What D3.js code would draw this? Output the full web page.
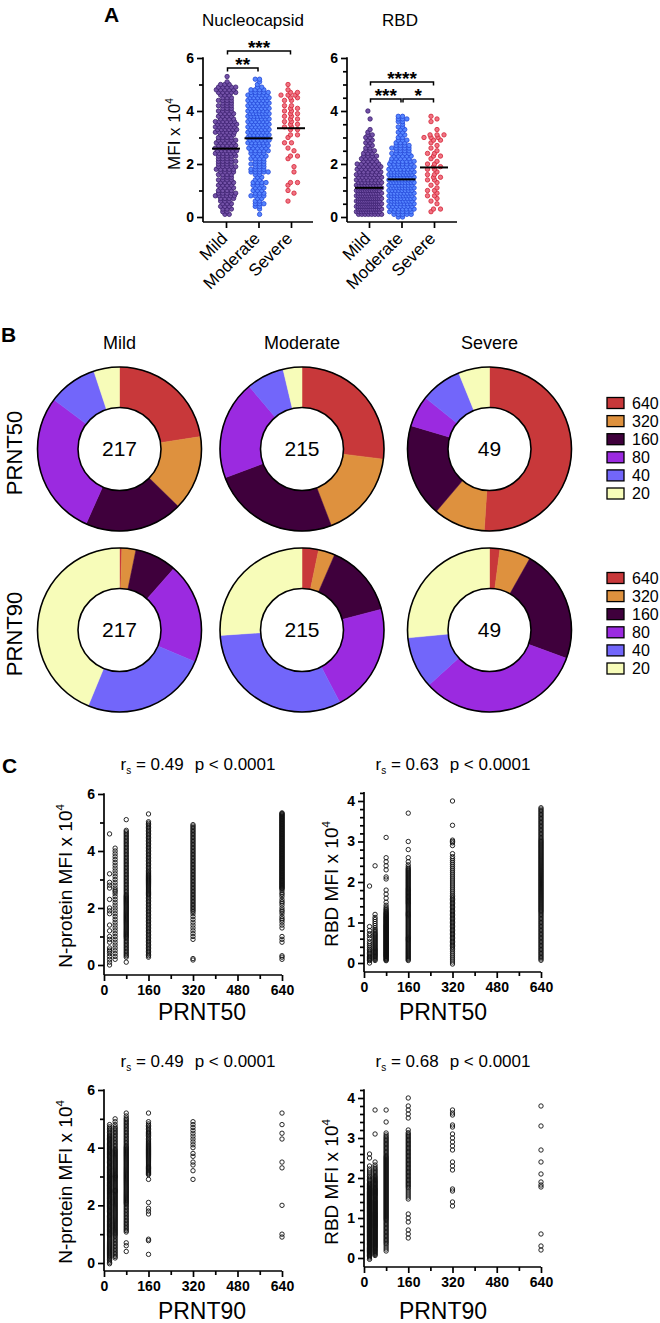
<!DOCTYPE html>
<html><head><meta charset="utf-8">
<script src="https://cdn.jsdelivr.net/npm/d3@7"></script>
<style>body{margin:0;background:#fff}svg{display:block}</style>
</head><body><svg id="c" width="660" height="1323"></svg>
<script>
// ---------------- DATA ----------------
const groups = ["Mild", "Moderate", "Severe"];
// Panel A: counts of subjects per 0.1 MFI bin (index i -> i/10 x 10^4)
const nucMild = [0,2,2,3,3, 3,3,4,6,5, 4,4,4,4,4, 3,4,4,5,5, 4,5,4,5,6, 6,6,5,5,5, 4,4,6,6,6, 6,6,4,4,4, 4,3,4,3,4, 3,3,5,5,5, 3,1,0,1];
const nucMod  = [0,1,0,1,2, 3,2,2,4,3, 3,3,3,4,2, 2,2,5,4,3, 4,3,4,4,4, 5,5,5,6,6, 7,6,6,6,6, 6,6,6,7,7, 6,6,6,6,6, 6,6,5,4,2, 1,1,2,0];
const nucSev  = [0,0,0,0,0, 0,1,0,0,1, 1,0,1,2,0, 0,0,1,0,1, 0,0,1,2,0, 1,1,0,2,0, 1,2,0,2,2, 2,2,2,2,2, 2,2,2,0,2, 2,3,2,1,0, 1];
const rbdMild = [0,8,10,12,12, 12,12,12,11,10, 11,11,9,8,7, 7,7,6,6,6, 6,4,4,4,3, 3,2,2,2,2, 2,2,1,1,0, 0,0,1,0,0, 1];
const rbdMod  = [2,5,6,7,7, 8,9,8,9,8, 8,9,8,9,8, 8,9,8,7,7, 6,7,5,5,5, 4,5,4,3,3, 2,2,2,2,2, 1,2,3,2];
const rbdSev  = [0,0,1,2,0, 1,1,1,2,1, 2,1,1,1,2, 2,2,1,2,2, 2,1,1,2,2, 1,1,1,1,2, 3,3,0,1,0, 0,1,1,1];
const nucMedians = [2.58, 2.97, 3.35];
const rbdMedians = [1.10, 1.42, 1.87];
const nucSig = [["Mild", "Moderate", "**"], ["Mild", "Severe", "***"]];
const rbdSig = [["Mild", "Moderate", "***"], ["Moderate", "Severe", "*"], ["Mild", "Severe", "****"]];

// Panel B: number of subjects per titer
const titers = ["640", "320", "160", "80", "40", "20"];
const titerColors = ["#c8383a", "#de913e", "#3f003c", "#9b2ae0", "#7266fa", "#f7fcb9"];
const p50Mild = [49, 32, 42, 62, 21, 11];
const p50Mod  = [58, 37, 54, 42, 16, 8];
const p50Sev  = [25, 5, 9, 3, 4, 3];
const p90Mild = [1, 6, 18, 43, 54, 95];
const p90Mod  = [7, 7, 31, 46, 68, 56];
const p90Sev  = [1, 3, 11, 16, 5, 13];
const groupN = [217, 215, 49];

// Panel C: per titer column, counts per 0.1 MFI bin
const titerX = [20, 40, 80, 160, 320, 640];
const nP50_20  = [1,1,1,1,1, 2,1,0,1,1, 1,0,1,0,1, 0,0,0,1,1, 1,0,0,1,0, 0,0,1,1,1, 0,0,1,0,0, 0,0,0,0,0, 0,0,0,0,0, 0,1];
const nP50_40  = [0,0,1,1,1, 1,1,1,1,1, 1,1,1,1,1, 1,1,1,1,1, 1,1,1,1,1, 1,2,1,1,1, 1,1,1,1,1, 1,1,1,1,1, 1,1];
const nP50_80  = [0,1,0,2,2, 2,2,2,2,2, 3,3,3,3,3, 3,3,3,3,3, 3,3,3,3,3, 2,2,2,2,2, 2,2,2,2,2, 2,2,2,2,2, 2,2,2,2,2, 2,2,2,0,0, 0,1];
const nP50_160 = [0,0,0,2,2, 2,2,2,2,2, 2,2,2,2,2, 2,2,2,2,2, 2,2,2,2,2, 3,3,3,3,3, 3,3,3,2,2, 2,2,2,2,2, 2,2,2,2,2, 2,2,2,2,2, 2,0,0,1];
const nP50_320 = [0,0,2,0,0, 0,0,0,0,1, 1,1,1,1,1, 1,1,1,1,2, 2,2,2,2,2, 2,2,2,2,2, 2,2,2,2,2, 2,2,2,2,2, 2,2,2,2,2, 2,2,2,2,2];
const nP50_640 = [0,0,1,2,0, 0,0,0,1,1, 1,0,0,1,1, 1,2,1,1,2, 1,1,2,1,1, 2,1,4,4,4, 4,4,4,4,4, 4,4,4,4,4, 4,4,4,4,4, 4,4,4,4,4, 4,4,4,4];
const rP50_20  = [1,5,3,3,2, 2,1,2,1,1, 0,0,0,0,0, 0,0,0,0,1];
const rP50_40  = [0,4,5,5,4, 4,4,4,3,2, 2,2,1,0,0, 0,0,0,0,0, 0,0,0,0,1];
const rP50_80  = [0,6,8,8,8, 8,8,8,8,8, 7,7,6,4,2, 1,1,1,1,0, 0,2,0,1,1, 1,1,0,0,0, 0,1];
const rP50_160 = [0,4,4,4,4, 4,5,4,4,4, 4,4,5,4,4, 5,5,5,5,4, 4,4,4,4,2, 1,1,0,1,0, 1,0,0,0,0, 0,0,1];
const rP50_320 = [2,2,2,2,3, 3,3,3,3,3, 3,3,3,3,3, 3,3,2,2,2, 2,2,2,2,2, 2,2,1,0,1, 3,0,0,0,1, 0,0,0,0,0, 1];
const rP50_640 = [0,3,3,3,3, 3,3,3,3,3, 3,3,3,4,4, 4,4,4,4,4, 4,4,4,4,4, 4,4,4,4,4, 4,3,3,3,3, 3,3,3,3];
const nP90_20  = [2,2,3,3,3, 3,3,3,3,3, 4,3,4,3,4, 3,4,3,4,3, 4,3,4,3,4, 5,4,5,4,5, 4,4,3,4,3, 4,3,4,3,4, 3,4,3,4,3, 2,2,2,1];
const nP90_40  = [0,0,2,2,2, 2,2,2,2,2, 3,3,3,3,3, 3,3,3,3,3, 3,3,3,3,3, 4,3,3,3,3, 4,3,3,3,3, 3,3,3,3,3, 2,2,2,2,2, 2,2,2,1,1, 1];
const nP90_80  = [0,0,0,0,1, 0,1,1,0,0, 0,2,2,2,2, 2,2,2,2,2, 2,3,3,3,3, 3,3,3,3,3, 3,3,3,3,3, 3,3,3,3,3, 3,2,2,2,2, 2,2,2,2,2, 2,1,1];
const nP90_160 = [0,0,0,1,0, 0,0,0,2,0, 0,0,0,0,0, 0,0,1,1,1, 0,1,0,0,0, 0,0,0,0,1, 0,3,3,4,3, 3,3,3,3,3, 3,3,3,2,2, 3,2,2,2,1, 0,0,1];
const nP90_320 = [0,0,0,0,0, 0,0,0,0,0, 0,0,0,0,0, 0,0,0,0,0, 0,0,0,0,0, 0,0,0,0,1, 0,0,1,0,1, 1,0,1,1,0, 1,1,1,1,1, 1,1,1,1,1];
const nP90_640 = [0,0,0,0,0, 0,0,0,0,1, 1,0,0,0,0, 0,0,0,0,0, 1,0,0,0,0, 0,0,0,0,0, 0,0,0,1,0, 1,0,0,0,0, 0,0,0,1,0, 1,0,0,1,0, 0,0,1];
const rP90_20  = [3,7,8,7,7, 9,9,9,9,9, 9,9,9,9,9, 8,8,7,6,3, 3,2,2,1,0, 1,1];
const rP90_40  = [0,4,5,6,6, 6,6,6,7,7, 7,7,6,6,6, 5,6,6,5,5, 4,3,3,2,1, 0,0,0,0,0, 0,1,0,0,0, 0,0,1];
const rP90_80  = [0,0,2,2,3, 3,3,3,3,3, 4,4,4,4,4, 4,4,4,4,4, 4,4,4,4,4, 4,3,3,3,3, 3,2,0,0,1, 0,0,1];
const rP90_160 = [0,0,0,0,0, 1,1,1,0,1, 1,1,0,0,0, 2,2,2,3,3, 3,3,3,3,3, 3,3,3,3,3, 3,3,1,0,0, 1,1,1,1,0, 1];
const rP90_320 = [0,0,0,0,0, 0,0,0,0,0, 0,0,0,1,1, 0,0,2,0,0, 0,0,1,1,1, 0,0,1,1,1, 1,1,0,2,0, 0,2,1];
const rP90_640 = [0,0,1,1,0, 0,1,0,0,0, 0,0,0,0,0, 0,0,0,2,1, 0,1,0,0,1, 0,0,1,0,0, 0,0,0,1,0, 0,0,0,1];
const corrLabels = ["0.49", "0.63", "0.49", "0.68"];

// ---------------- DRAW ----------------
const FONT = "'Liberation Sans', Arial, Helvetica, sans-serif";
const svg = d3.select("#c").attr("font-family", FONT);
const SW = 1.7;

function txt(g, x, y, s, opt = {}) {
  const t = g.append("text").attr("x", x).attr("y", y).text(s)
    .attr("font-size", opt.size || 16).attr("fill", "#000")
    .attr("text-anchor", opt.anchor || "start");
  if (opt.bold) t.attr("font-weight", "bold");
  if (opt.transform) t.attr("transform", opt.transform);
  return t;
}

function yAxis(g, x, y, majors, minors, topVal, bottomY, fs) {
  const a = g.append("g").attr("transform", `translate(${x},0)`)
    .call(d3.axisLeft(y).tickValues(majors).tickSize(6).tickPadding(3).tickFormat(d3.format("d")));
  a.attr("font-family", FONT).attr("font-size", fs).attr("font-weight", "bold");
  a.select(".domain").remove();
  a.selectAll("line").attr("stroke", "#000").attr("stroke-width", SW);
  a.selectAll("text").attr("fill", "#000");
  const m = g.append("g").attr("transform", `translate(${x},0)`)
    .call(d3.axisLeft(y).tickValues(minors).tickSize(4).tickFormat(""));
  m.select(".domain").remove();
  m.selectAll("line").attr("stroke", "#000").attr("stroke-width", SW);
  g.append("line").attr("x1", x).attr("x2", x).attr("y1", y(topVal) - 0.8).attr("y2", bottomY)
    .attr("stroke", "#000").attr("stroke-width", SW);
}

function yLabel(g, x, y, main, size) {
  const t = g.append("text").attr("transform", `translate(${x},${y}) rotate(-90)`)
    .attr("text-anchor", "middle").attr("font-size", size).attr("fill", "#000");
  t.append("tspan").text(main);
  t.append("tspan").attr("dy", -size * 0.42).attr("font-size", size * 0.6).text("4");
}

// ---- Panel A ----
const gA = svg.append("g");
txt(gA, 104, 22, "A", { size: 21, bold: true });
const yA = d3.scaleLinear().domain([0, 6]).range([217, 58]);
const dotStyles = [
  { fill: "#7452a8", stroke: "#3b1f6e", gap: 4.3, jig: 1.1 },
  { fill: "#5686ff", stroke: "#2548d8", gap: 4.3, jig: 1.1 },
  { fill: "#f07383", stroke: "#d42536", gap: 7, jig: 3 }
];

function swarm(counts, cx, maxW, st) {
  const pts = [];
  counts.forEach((n, i) => {
    if (!n) return;
    const s = n > 1 ? Math.min(st.gap, maxW / (n - 1)) : 0;
    const shift = (i % 2 ? 1 : -1) * st.jig;
    for (let j = 0; j < n; j++) pts.push({ x: cx + (j - (n - 1) / 2) * s + shift, v: i / 10 });
  });
  return pts;
}

function panelA(axisX, xEnd, xs, data, medians, sig, sigY, title, titleX, minors, maxW) {
  const g = gA.append("g");
  txt(g, titleX, 26, title, { size: 17, anchor: "middle" });
  yAxis(g, axisX, yA, [0, 2, 4, 6], minors, 6, 222, 14);
  g.append("line").attr("x1", axisX).attr("x2", xEnd).attr("y1", 222).attr("y2", 222)
    .attr("stroke", "#000").attr("stroke-width", SW);
  const xa = g.append("g").attr("transform", "translate(0,222)")
    .call(d3.axisBottom(xs).tickSize(6).tickFormat(""));
  xa.select(".domain").remove();
  xa.selectAll("line").attr("stroke", "#000").attr("stroke-width", SW);
  groups.forEach(c => {
    txt(g, 0, 0, c, { size: 17, anchor: "end", transform: `translate(${xs(c) + 2.5},239.5) rotate(-45)` });
  });
  data.forEach((counts, k) => {
    const pts = swarm(counts, xs(groups[k]), maxW, dotStyles[k]);
    g.append("g").selectAll("circle").data(pts).join("circle")
      .attr("cx", d => d.x).attr("cy", d => yA(d.v)).attr("r", 2.2)
      .attr("fill", dotStyles[k].fill).attr("stroke", dotStyles[k].stroke).attr("stroke-width", 0.8);
  });
  medians.forEach((m, k) => {
    const cx = xs(groups[k]);
    g.append("line").attr("x1", cx - 14).attr("x2", cx + 14).attr("y1", yA(m)).attr("y2", yA(m))
      .attr("stroke", "#000").attr("stroke-width", 2);
  });
  sig.forEach((s, k) => {
    const x1 = xs(s[0]) + 1.5, x2 = xs(s[1]) - 0.5, y = sigY[k];
    g.append("path").attr("d", `M${x1},${y + 3.5}V${y}H${x2}V${y + 3.5}`)
      .attr("fill", "none").attr("stroke", "#000").attr("stroke-width", 1.5);
    txt(g, (x1 + x2) / 2, y + 3, s[2], { size: 19, bold: true, anchor: "middle" });
  });
}
const xNuc = d3.scalePoint().domain(groups).range([226, 291]);
const xRbd = d3.scalePoint().domain(groups).range([369, 434]);
panelA(203, 313, xNuc, [nucMild, nucMod, nucSev], nucMedians, nucSig, [68, 51], "Nucleocapsid", 253, [1, 3, 5], 19);
panelA(347, 457, xRbd, [rbdMild, rbdMod, rbdSev], rbdMedians, rbdSig, [99, 99, 82], "RBD", 400, [0.5, 1, 1.5, 2.5, 3, 3.5, 4.5, 5, 5.5], 23);
yLabel(gA, 180, 134, "MFI x 10", 17);

// ---- Panel B ----
const gB = svg.append("g");
txt(gB, 1, 342, "B", { size: 21, bold: true });
const donutCx = [119.5, 302, 489.5];
const donutCy = [449, 630];
groups.forEach((c, i) => txt(gB, donutCx[i], 349, c, { size: 18, anchor: "middle" }));
const pie = d3.pie().sort(null).value(d => d);
const arc = d3.arc().innerRadius(41.5).outerRadius(82);
const rows = [[p50Mild, p50Mod, p50Sev], [p90Mild, p90Mod, p90Sev]];
const rowLabels = ["PRNT50", "PRNT90"];
rows.forEach((row, r) => {
  txt(gB, 0, 0, rowLabels[r], { size: 22, anchor: "middle", transform: `translate(22,${donutCy[r] + 4}) rotate(-90)` });
  row.forEach((vals, i) => {
    const g = gB.append("g").attr("transform", `translate(${donutCx[i]},${donutCy[r]})`);
    g.selectAll("path").data(pie(vals)).join("path").attr("d", arc)
      .attr("fill", (d, k) => titerColors[k]).attr("stroke", (d, k) => titerColors[k]).attr("stroke-width", 0.5);
    g.append("circle").attr("r", 82).attr("fill", "none").attr("stroke", "#000").attr("stroke-width", 1.6);
    g.append("circle").attr("r", 41.5).attr("fill", "#fff").attr("stroke", "#000").attr("stroke-width", 1.6);
    txt(g, 0, 7, String(groupN[i]), { size: 21, anchor: "middle" });
  });
  const ly0 = r === 0 ? 403 : 578;
  titers.forEach((t, k) => {
    const y = ly0 + k * 18.1;
    gB.append("rect").attr("x", 607).attr("y", y - 5.5).attr("width", 17).attr("height", 11)
      .attr("fill", titerColors[k]).attr("stroke", "#000").attr("stroke-width", 1.3);
    txt(gB, 632, y + 5.5, t, { size: 16 });
  });
});

// ---- Panel C ----
const gC = svg.append("g");
txt(gC, 2, 773, "C", { size: 21, bold: true });
function expand(counts) {
  const vals = [];
  counts.forEach((n, i) => { for (let j = 0; j < n; j++) vals.push(i / 10 + ((j + 0.5) / n - 0.5) * 0.1); });
  return vals;
}
function panelC(o) {
  const g = gC.append("g");
  const x = d3.scaleLinear().domain([0, 640]).range([o.x0, o.x1]);
  const y = d3.scaleLinear().domain([0, o.ymax]).range([o.y0, o.ytop]);
  const t = g.append("text").attr("x", o.titleX).attr("y", o.titleY).attr("text-anchor", "middle")
    .attr("font-size", 17).attr("fill", "#000");
  t.append("tspan").text("r");
  t.append("tspan").attr("dy", 4).attr("font-size", 10).text("s");
  t.append("tspan").attr("dy", -4).text(" = " + o.r);
  t.append("tspan").attr("dx", 11).text("p < 0.0001");
  yAxis(g, o.x0, y, o.majors, o.minors, o.axisTop, o.xAxisY, 14);
  g.append("line").attr("x1", o.x0).attr("x2", x(640)).attr("y1", o.xAxisY).attr("y2", o.xAxisY)
    .attr("stroke", "#000").attr("stroke-width", SW);
  const xa = g.append("g").attr("transform", `translate(0,${o.xAxisY})`)
    .call(d3.axisBottom(x).tickValues([0, 160, 320, 480, 640]).tickSize(6).tickPadding(4));
  xa.attr("font-family", FONT).attr("font-size", 14).attr("font-weight", "bold");
  xa.select(".domain").remove();
  xa.selectAll("line").attr("stroke", "#000").attr("stroke-width", SW);
  xa.selectAll("text").attr("fill", "#000");
  const xm = g.append("g").attr("transform", `translate(0,${o.xAxisY})`)
    .call(d3.axisBottom(x).tickValues([80, 240, 400, 560]).tickSize(4).tickFormat(""));
  xm.select(".domain").remove();
  xm.selectAll("line").attr("stroke", "#000").attr("stroke-width", SW);
  const pts = [];
  o.cols.forEach((counts, k) => expand(counts).forEach(v => pts.push({ t: titerX[k], v })));
  g.append("g").selectAll("circle").data(pts).join("circle")
    .attr("cx", d => x(d.t)).attr("cy", d => y(d.v)).attr("r", 2.2)
    .attr("fill", "none").attr("stroke", "#111").attr("stroke-width", 0.9);
  txt(g, o.xlabX, o.xlabY, o.xlab, { size: 23, anchor: "middle" });
  yLabel(g, o.ylabX, o.ylabY, o.ylab, 19);
}
const nMinors = [1, 3, 5];
const rMinors = d3.range(1, 22).map(i => i * 0.2).filter(v => Math.abs(v - Math.round(v)) > 0.01);
panelC({ x0: 104, x1: 282, y0: 965, ytop: 794, ymax: 6, axisTop: 6, xAxisY: 975, majors: [0, 2, 4, 6], minors: nMinors,
  cols: [nP50_20, nP50_40, nP50_80, nP50_160, nP50_320, nP50_640], r: corrLabels[0], titleX: 198, titleY: 770,
  xlab: "PRNT50", xlabX: 202, xlabY: 1020, ylab: "N-protein MFI x 10", ylabX: 72, ylabY: 886 });
panelC({ x0: 364, x1: 541, y0: 963, ytop: 801, ymax: 4, axisTop: 4.2, xAxisY: 972, majors: [0, 1, 2, 3, 4], minors: rMinors,
  cols: [rP50_20, rP50_40, rP50_80, rP50_160, rP50_320, rP50_640], r: corrLabels[1], titleX: 453, titleY: 770,
  xlab: "PRNT50", xlabX: 443, xlabY: 1020, ylab: "RBD MFI x 10", ylabX: 338, ylabY: 884 });
panelC({ x0: 104, x1: 282, y0: 1263, ytop: 1090, ymax: 6, axisTop: 6, xAxisY: 1271, majors: [0, 2, 4, 6], minors: nMinors,
  cols: [nP90_20, nP90_40, nP90_80, nP90_160, nP90_320, nP90_640], r: corrLabels[2], titleX: 198, titleY: 1067,
  xlab: "PRNT90", xlabX: 202, xlabY: 1319, ylab: "N-protein MFI x 10", ylabX: 72, ylabY: 1182 });
panelC({ x0: 364, x1: 541, y0: 1258, ytop: 1098, ymax: 4, axisTop: 4.2, xAxisY: 1267, majors: [0, 1, 2, 3, 4], minors: rMinors,
  cols: [rP90_20, rP90_40, rP90_80, rP90_160, rP90_320, rP90_640], r: corrLabels[3], titleX: 453, titleY: 1067,
  xlab: "PRNT90", xlabX: 443, xlabY: 1319, ylab: "RBD MFI x 10", ylabX: 338, ylabY: 1182 });
</script></body></html>
